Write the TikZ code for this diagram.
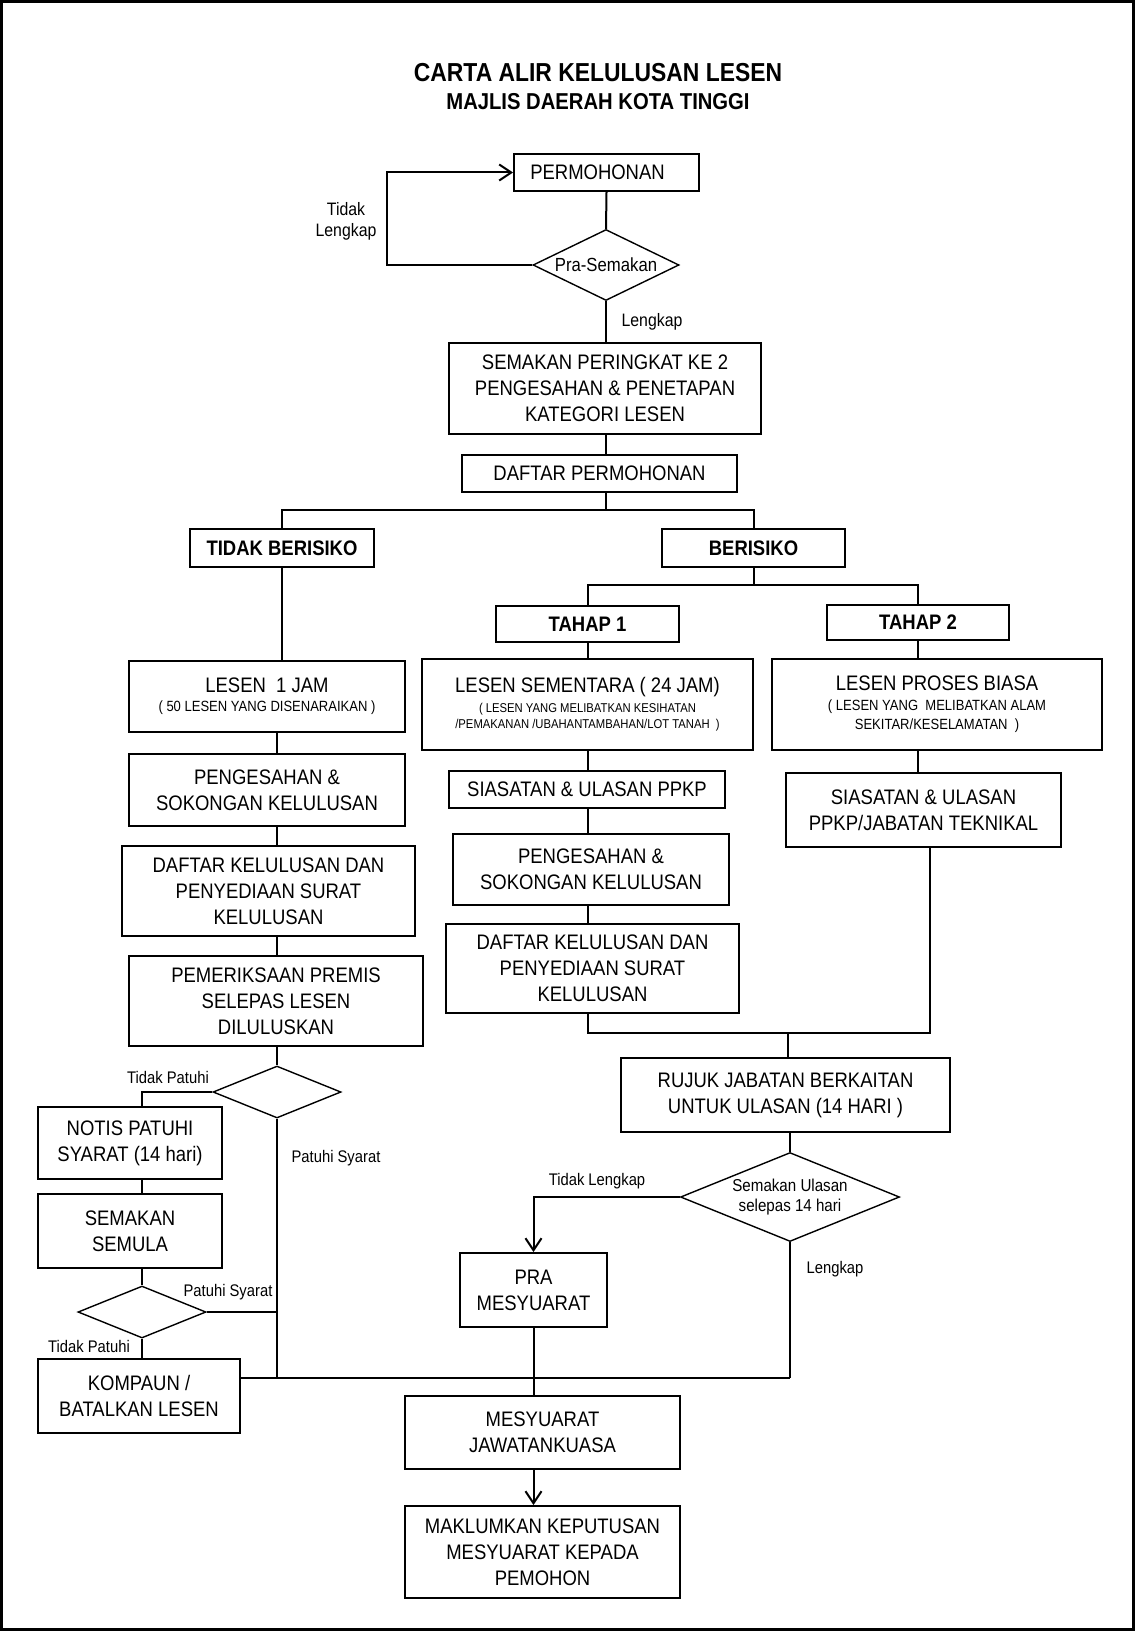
\documentclass[tikz,border=0pt]{standalone}
\usepackage{fontspec}
\setmainfont{Liberation Sans}[FakeStretch=0.88]
\usetikzlibrary{arrows.meta,shapes.geometric}
\newcommand{\kecil}[1]{{\fontsize{6.4}{9}\selectfont #1}}
\newcommand{\sederhana}[1]{{\fontsize{7.4}{9}\selectfont #1}}

\begin{document}
\begin{tikzpicture}[x=0.5pt,y=-0.5pt,
    >={Straight Barb[length=6pt,width=8pt]},
    box/.style 2 args={draw,line width=1pt,align=center,inner sep=0pt,
      minimum width=#1,minimum height=#2,font=\fontsize{10.5}{13}\selectfont},
    hbox/.style 2 args={box={#1}{#2},font=\bfseries\fontsize{10.5}{13}\selectfont},
    dia/.style 2 args={draw,diamond,aspect=2.5,line width=0.7pt,align=center,
      inner sep=0pt,minimum width=#1,minimum height=#2,font=\fontsize{8.6}{10}\selectfont},
    lbl/.style={align=center,inner sep=0pt,font=\fontsize{8.4}{10.5}\selectfont}]
      \useasboundingbox (0,0) rectangle (1135,1631);
      \draw[line width=1.5pt] (1.5,1.5) rectangle (1133.5,1629.5);
      \path
        (598,73) node[font=\bfseries\fontsize{13}{15}\selectfont] (tajuk) {CARTA ALIR KELULUSAN LESEN}
        (598,101.5) node[font=\bfseries\fontsize{11.5}{14}\selectfont] (majlis) {MAJLIS DAERAH KOTA TINGGI}
        (606.5,172.5) node[box={92.5pt}{18.5pt}] (permohonan) {PERMOHONAN\hspace{9pt}}
        (606,265) node[dia={73pt}{35.5pt},font=\fontsize{9.5}{11}\selectfont] (prasemakan) {Pra-Semakan}
        (605,388.5) node[box={156pt}{45.5pt}] (semakan2) {SEMAKAN PERINGKAT KE 2\\PENGESAHAN \& PENETAPAN\\KATEGORI LESEN}
        (599.5,473.5) node[box={137.5pt}{18.5pt}] (daftar) {DAFTAR PERMOHONAN}
        (282,548) node[hbox={92pt}{19pt}] (tidak) {TIDAK BERISIKO}
        (753.5,548) node[hbox={91.5pt}{19pt}] (berisiko) {BERISIKO}
        (587.5,624) node[hbox={91.5pt}{18pt}] (tahap1) {TAHAP 1}
        (918,622.5) node[hbox={91pt}{17.5pt}] (tahap2) {TAHAP 2}
        (267,696.5) node[box={138pt}{35.5pt}] (lesen1) {LESEN\ \ 1 JAM\\[-3.5pt]\sederhana{( 50 LESEN YANG DISENARAIKAN )}}
        (267,790) node[box={138pt}{36pt}] (sah1) {PENGESAHAN \&\\SOKONGAN KELULUSAN}
        (268.5,891) node[box={146.5pt}{45pt}] (daftar1) {DAFTAR KELULUSAN DAN\\PENYEDIAAN SURAT\\KELULUSAN}
        (276,1001) node[box={147pt}{45pt}] (periksa) {PEMERIKSAAN PREMIS\\SELEPAS LESEN\\DILULUSKAN}
        (277,1092) node[dia={64pt}{26pt}] (patuh1) {}
        (130,1143) node[box={92pt}{36pt}] (notis) {NOTIS PATUHI\\SYARAT (14 hari)}
        (130,1231) node[box={92pt}{37pt}] (semula) {SEMAKAN\\SEMULA}
        (142,1312) node[dia={64pt}{26pt}] (patuh2) {}
        (139,1396) node[box={101pt}{37pt}] (kompaun) {KOMPAUN /\\BATALKAN LESEN}
        (587.5,704.5) node[box={165.5pt}{45.5pt}] (sementara) {LESEN SEMENTARA ( 24 JAM)\\[-3pt]\kecil{( LESEN YANG MELIBATKAN KESIHATAN}\\[-5pt]\kecil{/PEMAKANAN /UBAHANTAMBAHAN/LOT TANAH\ \ )}}
        (587,789.5) node[box={138pt}{18.5pt}] (siasat1) {SIASATAN \& ULASAN PPKP}
        (591,869.5) node[box={138pt}{35.5pt}] (sah2) {PENGESAHAN \&\\SOKONGAN KELULUSAN}
        (592.5,968.5) node[box={146.5pt}{44.5pt}] (daftar2) {DAFTAR KELULUSAN DAN\\PENYEDIAAN SURAT\\KELULUSAN}
        (937,704.5) node[box={165pt}{45.5pt}] (proses) {LESEN PROSES BIASA\\[-3pt]\sederhana{( LESEN YANG\ \ MELIBATKAN ALAM}\\[-3.5pt]\sederhana{SEKITAR/KESELAMATAN\ \ )}}
        (923.5,810) node[box={137.5pt}{37pt}] (siasat2) {SIASATAN \& ULASAN\\PPKP/JABATAN TEKNIKAL}
        (785.5,1095) node[box={164.5pt}{37pt}] (rujuk) {RUJUK JABATAN BERKAITAN\\UNTUK ULASAN (14 HARI )}
        (790,1197) node[dia={109.5pt}{44.5pt}] (ulasan) {Semakan Ulasan\\selepas 14 hari}
        (533.5,1290) node[box={73.5pt}{37pt}] (pra) {PRA\\MESYUARAT}
        (542.5,1432.5) node[box={137.5pt}{36.5pt}] (mesyuarat) {MESYUARAT\\JAWATANKUASA}
        (542.5,1552) node[box={137.5pt}{46pt}] (maklum) {MAKLUMKAN KEPUTUSAN\\MESYUARAT KEPADA\\PEMOHON};
      \path
        (346,221.5) node[lbl,font=\fontsize{9}{10.5}\selectfont] (tl1) {Tidak\\Lengkap}
        (652,322) node[lbl,font=\fontsize{9}{10.5}\selectfont] (l1) {Lengkap}
        (168,1077) node[lbl] (tp1) {Tidak Patuhi}
        (336,1158) node[lbl] (ps1) {Patuhi Syarat}
        (228,1292) node[lbl] (ps2) {Patuhi Syarat}
        (89,1346) node[lbl] (tp2) {Tidak Patuhi}
        (597,1181) node[lbl] (tl2) {Tidak Lengkap}
        (835,1269) node[lbl] (l2) {Lengkap};
      \coordinate (lup) at (387,265);
      \coordinate (cabang) at (606,510);
      \coordinate (cabang2) at (753.5,585);
      \coordinate (bawah) at (277,1378);
      \coordinate (gabung) at (930,1033);
      \coordinate (rujuk1) at (788,1033);
      \begin{scope}[line width=1pt]
        \draw (permohonan.south) -- (prasemakan.north);
        \draw[->] (prasemakan.west) -- (lup) |- (permohonan.west);
        \draw (prasemakan.south) -- (semakan2.north -| prasemakan.south);
        \draw (semakan2.south -| cabang) -- (daftar.north -| cabang);
        \draw (daftar.south -| cabang) -- (cabang);
        \draw (tidak.north) |- (cabang) -| (berisiko.north);
        \draw (berisiko.south) -- (cabang2);
        \draw (tahap1.north) |- (cabang2) -| (tahap2.north);
        \draw (tidak.south) -- (tidak.south |- lesen1.north);
        \draw (lesen1.south -| patuh1) -- (sah1.north -| patuh1);
        \draw (sah1.south -| patuh1) -- (daftar1.north -| patuh1);
        \draw (daftar1.south -| patuh1) -- (periksa.north -| patuh1);
        \draw (periksa.south -| patuh1) -- (patuh1.north);
        \draw (patuh1.west) -| (notis.north -| patuh2);
        \draw (notis.south -| patuh2) -- (semula.north -| patuh2);
        \draw (semula.south -| patuh2) -- (patuh2.north);
        \draw (patuh2.south) -- (kompaun.north -| patuh2);
        \draw (patuh2.east) -- (patuh2 -| patuh1);
        \draw (patuh1.south) -- (bawah);
        \draw (kompaun.east |- bawah) -- (bawah -| ulasan);
        \draw (tahap1.south) -- (sementara.north -| tahap1);
        \draw (sementara.south -| tahap1) -- (siasat1.north -| tahap1);
        \draw (siasat1.south -| tahap1) -- (sah2.north -| tahap1);
        \draw (sah2.south -| tahap1) -- (daftar2.north -| tahap1);
        \draw (tahap2.south) -- (proses.north -| tahap2);
        \draw (proses.south -| tahap2) -- (siasat2.north -| tahap2);
        \draw (daftar2.south -| tahap1) |- (gabung) -- (gabung |- siasat2.south);
        \draw (rujuk1) -- (rujuk1 |- rujuk.north);
        \draw (rujuk.south -| ulasan) -- (ulasan.north);
        \draw[->] (ulasan.west) -| (pra.north);
        \draw (ulasan.south) -- (bawah -| ulasan);
        \draw (pra.south) -- (mesyuarat.north -| pra);
        \draw[->] (mesyuarat.south -| pra) -- (maklum.north -| pra);
      \end{scope}
    \end{tikzpicture}
\end{document}
